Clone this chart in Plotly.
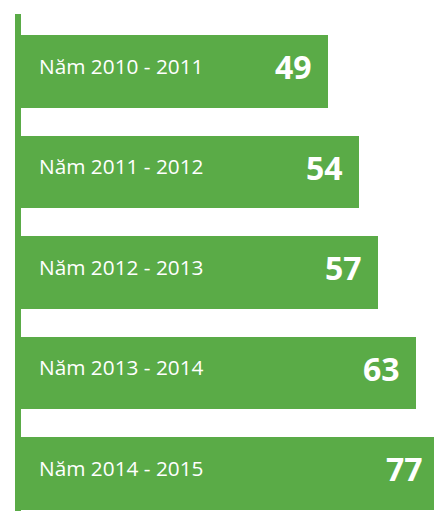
import plotly.graph_objects as go

periods = ["Năm 2010 - 2011", "Năm 2011 - 2012", "Năm 2012 - 2013",
           "Năm 2013 - 2014", "Năm 2014 - 2015"]
values = [49, 54, 57, 63, 77]
# bar extents as drawn in the infographic (percent of chart width)
bar_lengths = [74.3, 81.8, 86.4, 95.6, 101.2]

GREEN = "#5aab47"
W, H = 434, 511
L = 21
idx = list(range(len(periods)))

fig = go.Figure(go.Bar(
    y=idx, x=bar_lengths, orientation="h", width=0.72,
    marker=dict(color=GREEN, line=dict(width=0)),
    hoverinfo="skip", cliponaxis=True,
))

ann = []
for i, (p, v, bl) in enumerate(zip(periods, values, bar_lengths)):
    ann.append(dict(x=0, y=i, xref="x", yref="y", text=p, showarrow=False,
                    xanchor="left", yanchor="middle", xshift=16, yshift=6,
                    font=dict(family="Open Sans", size=20.8, color="white")))
    ann.append(dict(x=min(bl, 100), y=i, xref="x", yref="y", text=f"<b>{v}</b>",
                    showarrow=False, xanchor="right", yanchor="middle",
                    xshift=-14 + (bl - min(bl, 100)) * (W - L) / 100, yshift=5,
                    font=dict(family="Open Sans", size=32, color="white")))

pitch = 100.5
c0 = 71.5
fig.update_layout(
    width=W, height=H,
    margin=dict(l=L, r=0, t=0, b=0),
    paper_bgcolor="white", plot_bgcolor="white",
    showlegend=False, bargap=0,
    xaxis=dict(range=[0, 100], visible=False, fixedrange=True),
    yaxis=dict(range=[(H - c0) / pitch, -c0 / pitch], visible=False, fixedrange=True),
    annotations=ann,
    shapes=[dict(type="rect", xref="paper", yref="paper",
                 x0=-6 / (W - L), x1=0, y0=0, y1=1 - 14 / H,
                 fillcolor=GREEN, line=dict(width=0), layer="above")],
)

fig.write_html("out.html", config={"displayModeBar": False},
               post_script="document.body.style.margin='0';document.body.style.overflow='hidden';")
